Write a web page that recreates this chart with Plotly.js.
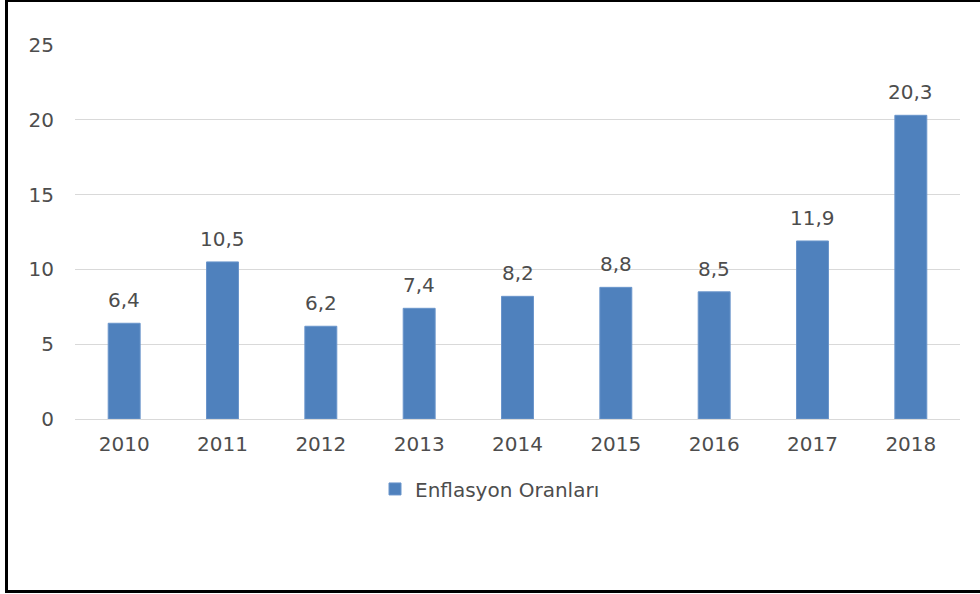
<!DOCTYPE html>
<html>
<head>
<meta charset="utf-8">
<script src="https://cdn.plot.ly/plotly-3.0.1.min.js"></script>
<style>
  html, body { margin: 0; padding: 0; background: #ffffff; }
  #wrap { position: relative; width: 980px; height: 594px; overflow: hidden; }
  #chart { width: 980px; height: 594px; }
  #frame { position: absolute; left: 5px; top: 0px; width: 1000px; height: 588px;
           border-left: 3px solid #000; border-top: 2px solid #000; border-bottom: 3px solid #000;
           pointer-events: none; box-sizing: content-box; }
</style>
</head>
<body>
<div id="wrap">
  <div id="chart"></div>
  <div id="frame"></div>
</div>
<script>
const years = ['2010', '2011', '2012', '2013', '2014', '2015', '2016', '2017', '2018'];
const rates = [6.4, 10.5, 6.2, 7.4, 8.2, 8.8, 8.5, 11.9, 20.3];
const rateLabels = ['6,4', '10,5', '6,2', '7,4', '8,2', '8,8', '8,5', '11,9', '20,3'];
const seriesName = 'Enflasyon Oranları';
const yTicks = [0, 5, 10, 15, 20, 25];

const textColor = '#4d4d4d';
const fontFamily = '"DejaVu Sans", "Liberation Sans", Arial, sans-serif';

const trace = {
  type: 'bar',
  x: years,
  y: rates,
  name: seriesName,
  marker: { color: '#4F81BD', line: { color: '#6A95CB', width: 1 } },
  hoverinfo: 'skip'
};

// annotations on a category axis use the category index
const labelAnnotations = years.map((yr, i) => ({
  x: i,
  y: rates[i],
  xref: 'x',
  yref: 'y',
  text: rateLabels[i],
  showarrow: false,
  xanchor: 'center',
  yanchor: 'bottom',
  yshift: 9,
  font: { family: fontFamily, size: 20, color: textColor }
}));

const layout = {
  width: 980,
  height: 594,
  margin: { l: 75, r: 20, t: 44.5, b: 175 },
  paper_bgcolor: '#ffffff',
  plot_bgcolor: '#ffffff',
  font: { family: fontFamily, size: 20, color: textColor },
  bargap: 0.675,
  showlegend: true,
  annotations: labelAnnotations,
  legend: {
    orientation: 'h',
    x: 0.339, xanchor: 'left',
    y: -0.187, yanchor: 'middle',
    font: { family: fontFamily, size: 20, color: textColor },
    bgcolor: 'rgba(0,0,0,0)'
  },
  xaxis: {
    type: 'category',
    categoryorder: 'array',
    categoryarray: years,
    range: [-0.5, years.length - 0.5],
    showgrid: false,
    showline: true,
    linecolor: '#D9D9D9',
    linewidth: 1,
    ticks: '',
    ticklabelstandoff: 7,
    tickfont: { family: fontFamily, size: 20, color: textColor },
    fixedrange: true
  },
  yaxis: {
    range: [0, 25],
    tickvals: yTicks,
    ticktext: yTicks.map(String),
    showgrid: true,
    gridcolor: '#D9D9D9',
    gridwidth: 1,
    zeroline: false,
    showline: false,
    ticks: '',
    ticklabelstandoff: 20,
    tickfont: { family: fontFamily, size: 20, color: textColor },
    fixedrange: true
  }
};

Plotly.newPlot('chart', [trace], layout, { displayModeBar: false, staticPlot: true });
</script>
</body>
</html>
